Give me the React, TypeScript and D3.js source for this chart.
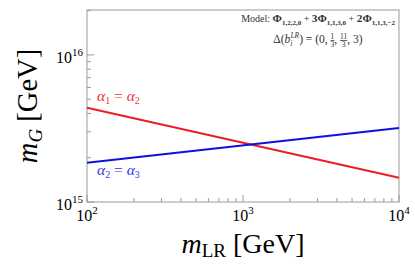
import React from 'react';
import * as d3 from 'd3';

// m_LR range (GeV) and unification-scale lines
const mLR = [1e2, 1e4];
const alpha12 = [4.37e15, 1.46e15]; // alpha_1 = alpha_2
const alpha23 = [1.85e15, 3.18e15]; // alpha_2 = alpha_3

const xMajor = [2, 3, 4]; // exponents
const yMajor = [15, 16];

const width = 415;
const height = 280;
const margin = { left: 87, right: 16, top: 10, bottom: 78 };
const serif = '"Liberation Serif", "DejaVu Serif", serif';

const App: React.FC = () => {
  const x = d3.scaleLog().domain([1e2, 1e4]).range([margin.left, width - margin.right]);
  const y = d3.scaleLog().domain([1e15, 2.02e16]).range([height - margin.bottom, margin.top]);
  const [x0, x1] = x.range();
  const [y0, y1] = y.range();

  const line = d3.line<number>().x((_, i) => x(mLR[i])).y(d => y(d));

  // minor ticks
  const xMinor: number[] = [];
  for (let e = 2; e < 4; e++) for (let k = 2; k <= 9; k++) xMinor.push(k * 10 ** e);
  const yMinor: number[] = [];
  for (let e = 15; e <= 16; e++) for (let k = 2; k <= 9; k++) {
    const v = k * 10 ** e;
    if (v <= y.domain()[1]) yMinor.push(v);
  }

  const sub = (s: string) => (
    <tspan fontSize={7} dy={2.5} fontWeight="bold">{s}</tspan>
  );

  return (
    <svg width={width} height={height} style={{ position: 'absolute', left: 0, top: 0 }} fontFamily={serif}>
      <rect width={width} height={height} fill="#fff" />
      {/* ticks */}
      <g stroke="#999" strokeWidth={1}>
        {xMinor.map(v => <line key={'xm' + v} x1={x(v)} x2={x(v)} y1={y0} y2={y0 - 4} />)}
        {xMajor.map(e => <line key={'xM' + e} x1={x(10 ** e)} x2={x(10 ** e)} y1={y0} y2={y0 - 7} />)}
        {yMinor.map(v => <line key={'ym' + v} x1={x0} x2={x0 + 4} y1={y(v)} y2={y(v)} />)}
        {yMajor.map(e => <line key={'yM' + e} x1={x0} x2={x0 + 7} y1={y(10 ** e)} y2={y(10 ** e)} />)}
      </g>
      <rect x={x0} y={y1} width={x1 - x0} height={y0 - y1} fill="none" stroke="#999" strokeWidth={1} />

      {/* lines */}
      <path d={line(alpha12) ?? ''} fill="none" stroke="#ee1c25" strokeWidth={2} />
      <path d={line(alpha23) ?? ''} fill="none" stroke="#1010e0" strokeWidth={2} />

      {/* tick labels */}
      <g fill="#000" fontSize={16}>
        {xMajor.map(e => (
          <text key={'xl' + e} x={x(10 ** e)} y={y0 + 19} textAnchor="middle">
            10<tspan fontSize={11} dy={-7}>{e}</tspan>
          </text>
        ))}
        {yMajor.map(e => (
          <text key={'yl' + e} x={x0 - 4} y={y(10 ** e) + 8} textAnchor="end">
            10<tspan fontSize={11} dy={-7}>{e}</tspan>
          </text>
        ))}
      </g>

      {/* line labels */}
      <text x={97} y={101} fontSize={15.5} fill="#ee3333" fontStyle="italic">
        α<tspan fontSize={10} dy={3} fontStyle="normal">1</tspan>
        <tspan dy={-3} fontStyle="normal"> = </tspan>α<tspan fontSize={10} dy={3} fontStyle="normal">2</tspan>
      </text>
      <text x={97} y={175} fontSize={15.5} fill="#3333ee" fontStyle="italic">
        α<tspan fontSize={10} dy={3} fontStyle="normal">2</tspan>
        <tspan dy={-3} fontStyle="normal"> = </tspan>α<tspan fontSize={10} dy={3} fontStyle="normal">3</tspan>
      </text>

      {/* model annotation */}
      <g fill="#333">
        <text x={395} y={22} fontSize={10} textAnchor="end">
          Model:{' '}
          <tspan fontWeight="bold" fontSize={11.3}>Φ</tspan>{sub('1,2,2,0')}
          <tspan dy={-2.5}> + </tspan>
          <tspan fontWeight="bold" fontSize={11.3}>3Φ</tspan>{sub('1,1,3,0')}
          <tspan dy={-2.5}> + </tspan>
          <tspan fontWeight="bold" fontSize={11.3}>2Φ</tspan>{sub('1,1,3,−2')}
        </text>
        <text x={318} y={43} fontSize={11.5} textAnchor="middle">
          Δ(<tspan fontStyle="italic">b</tspan>
          <tspan fontSize={7.5} dy={3} fontStyle="italic">i</tspan>
          <tspan fontSize={7.5} dx={-2} dy={-8} fontStyle="italic">LR</tspan>
          <tspan dy={5}>) = (0, </tspan>
          <tspan fontSize={7.5} dy={-4} textDecoration="underline">1</tspan>
          <tspan fontSize={7.5} dx={-3.75} dy={8}>3</tspan>
          <tspan dy={-4}>, </tspan>
          <tspan fontSize={7.5} dy={-4} textDecoration="underline">11</tspan>
          <tspan fontSize={7.5} dx={-5.6} dy={8}>3</tspan>
          <tspan dx={1.9} dy={-4}>, 3)</tspan>
        </text>
      </g>

      {/* axis titles */}
      <text x={x(1e3)} y={253} textAnchor="middle" fontSize={28}>
        <tspan fontStyle="italic">m</tspan><tspan fontSize={19} dy={4}>LR</tspan>
        <tspan dy={-4}> [GeV]</tspan>
      </text>
      <text transform={`translate(37, ${(y0 + y1) / 2}) rotate(-90)`} textAnchor="middle" fontSize={28.5}>
        <tspan fontStyle="italic">m</tspan><tspan fontSize={19} dy={5} fontStyle="italic">G</tspan>
        <tspan dy={-5}> [GeV]</tspan>
      </text>
    </svg>
  );
};

export default App;
